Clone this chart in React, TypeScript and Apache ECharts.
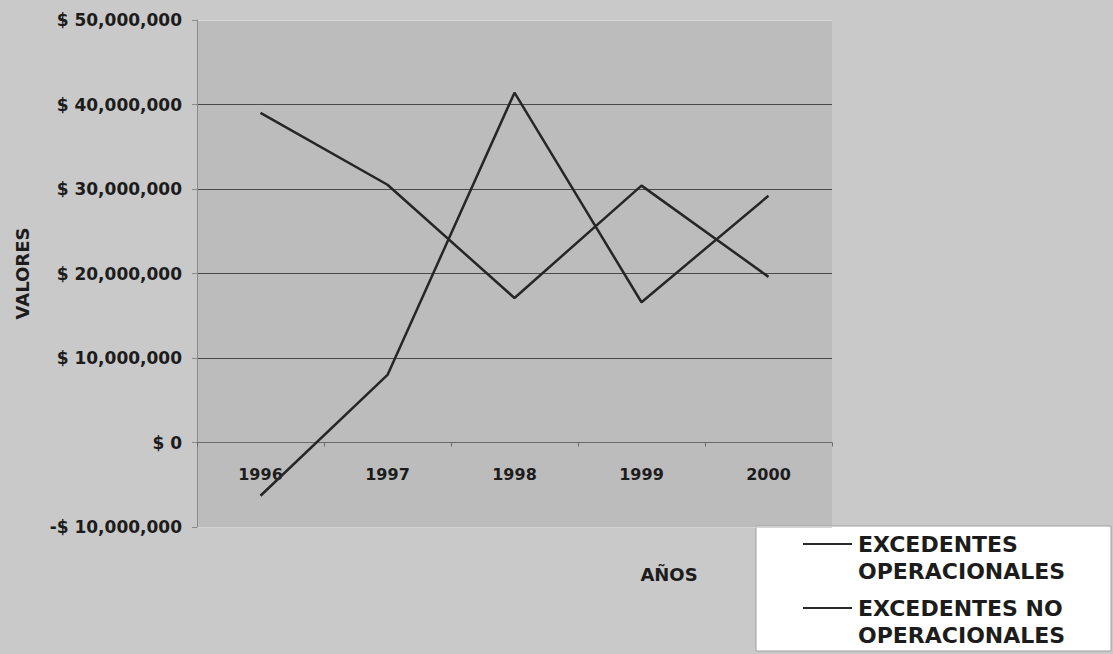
import React, { useEffect, useRef } from "react";
import * as echarts from "echarts";

const years = ["1996", "1997", "1998", "1999", "2000"];
const operacionales = [39000000, 30500000, 17100000, 30400000, 19600000];
const noOperacionales = [-6300000, 8000000, 41400000, 16600000, 29200000];
const seriesNames = ["EXCEDENTES OPERACIONALES", "EXCEDENTES NO OPERACIONALES"];
const legendLines = [
  ["EXCEDENTES", "OPERACIONALES"],
  ["EXCEDENTES NO", "OPERACIONALES"],
];
const yMin = -10000000;
const yMax = 50000000;
const yStep = 10000000;

const FONT = "DejaVu Sans";
const INK = "#1c1c1c";

function fmtMoney(v: number): string {
  const abs = Math.abs(v).toLocaleString("en-US");
  return (v < 0 ? "-$ " : "$ ") + abs;
}

export default function App() {
  const ref = useRef<HTMLDivElement>(null);
  useEffect(() => {
    if (!ref.current) return;
    const chart = echarts.init(ref.current, undefined, { renderer: "svg" });
    const legendGraphics: any[] = [
      {
        type: "rect",
        shape: { x: 756, y: 526, width: 355, height: 125 },
        style: { fill: "#ffffff", stroke: "#a0a0a0", lineWidth: 1 },
      },
    ];
    legendLines.forEach((lines, i) => {
      const y0 = 544 + i * 64;
      legendGraphics.push({
        type: "line",
        shape: { x1: 803, y1: y0, x2: 852, y2: y0 },
        style: { stroke: "#2a2a2a", lineWidth: 2 },
      });
      lines.forEach((t, j) => {
        legendGraphics.push({
          type: "text",
          x: 858,
          y: y0 + j * 27,
          style: {
            text: t,
            fill: INK,
            font: `bold 22px "${FONT}"`,
            textVerticalAlign: "middle",
            textAlign: "left",
          },
        });
      });
    });
    legendGraphics.push({
      type: "text",
      x: 669,
      y: 574,
      style: {
        text: "AÑOS",
        fill: INK,
        font: `bold 18px "${FONT}"`,
        textAlign: "center",
        textVerticalAlign: "middle",
      },
    });

    const zeroOffset = -Math.round(507 * (0 - yMin) / (yMax - yMin));

    chart.setOption({
      animation: false,
      backgroundColor: "#c9c9c9",
      grid: {
        left: 197,
        top: 20,
        width: 635,
        height: 507,
        show: true,
        backgroundColor: "#bcbcbc",
        borderWidth: 0,
        containLabel: false,
      },
      xAxis: [
        {
          type: "category",
          data: years,
          boundaryGap: true,
          axisLine: { show: true, onZero: true, lineStyle: { color: "#6a6a6a", width: 1 } },
          axisTick: { show: true, length: 4, lineStyle: { color: "#6a6a6a" } },
          axisLabel: { show: false },
          splitLine: { show: false },
        },
        {
          type: "category",
          data: years,
          position: "bottom",
          offset: zeroOffset,
          boundaryGap: true,
          axisLine: { show: false, onZero: false },
          axisTick: { show: false },
          axisLabel: {
            margin: 24,
            color: INK,
            fontFamily: FONT,
            fontWeight: "bold",
            fontSize: 16,
          },
          splitLine: { show: false },
        },
      ],
      yAxis: {
        type: "value",
        min: yMin,
        max: yMax,
        interval: yStep,
        name: "VALORES",
        nameLocation: "middle",
        nameRotate: 90,
        nameGap: 166,
        nameTextStyle: { color: INK, fontFamily: FONT, fontWeight: "bold", fontSize: 18 },
        axisLine: { show: true, lineStyle: { color: "#8a8a8a", width: 1 } },
        axisTick: { show: true, length: 5, lineStyle: { color: "#8a8a8a" } },
        axisLabel: {
          margin: 15,
          color: INK,
          fontFamily: FONT,
          fontWeight: "bold",
          fontSize: 17,
          formatter: (v: number) => fmtMoney(v),
        },
        splitLine: {
          show: true,
          lineStyle: {
            color: ["#d4d4d4", "#777777", "#4a4a4a", "#4a4a4a", "#4a4a4a", "#4a4a4a", "#d8d8d8"],
            width: 1,
          },
        },
      },
      series: [
        {
          name: seriesNames[0],
          type: "line",
          data: operacionales,
          symbol: "none",
          lineStyle: { color: "#262626", width: 2.5 },
        },
        {
          name: seriesNames[1],
          type: "line",
          data: noOperacionales,
          symbol: "none",
          lineStyle: { color: "#262626", width: 2.5 },
        },
      ],
      graphic: legendGraphics,
    });
    return () => chart.dispose();
  }, []);
  return (
    <div
      ref={ref}
      style={{ position: "fixed", left: 0, top: 0, width: 1113, height: 654 }}
    />
  );
}
